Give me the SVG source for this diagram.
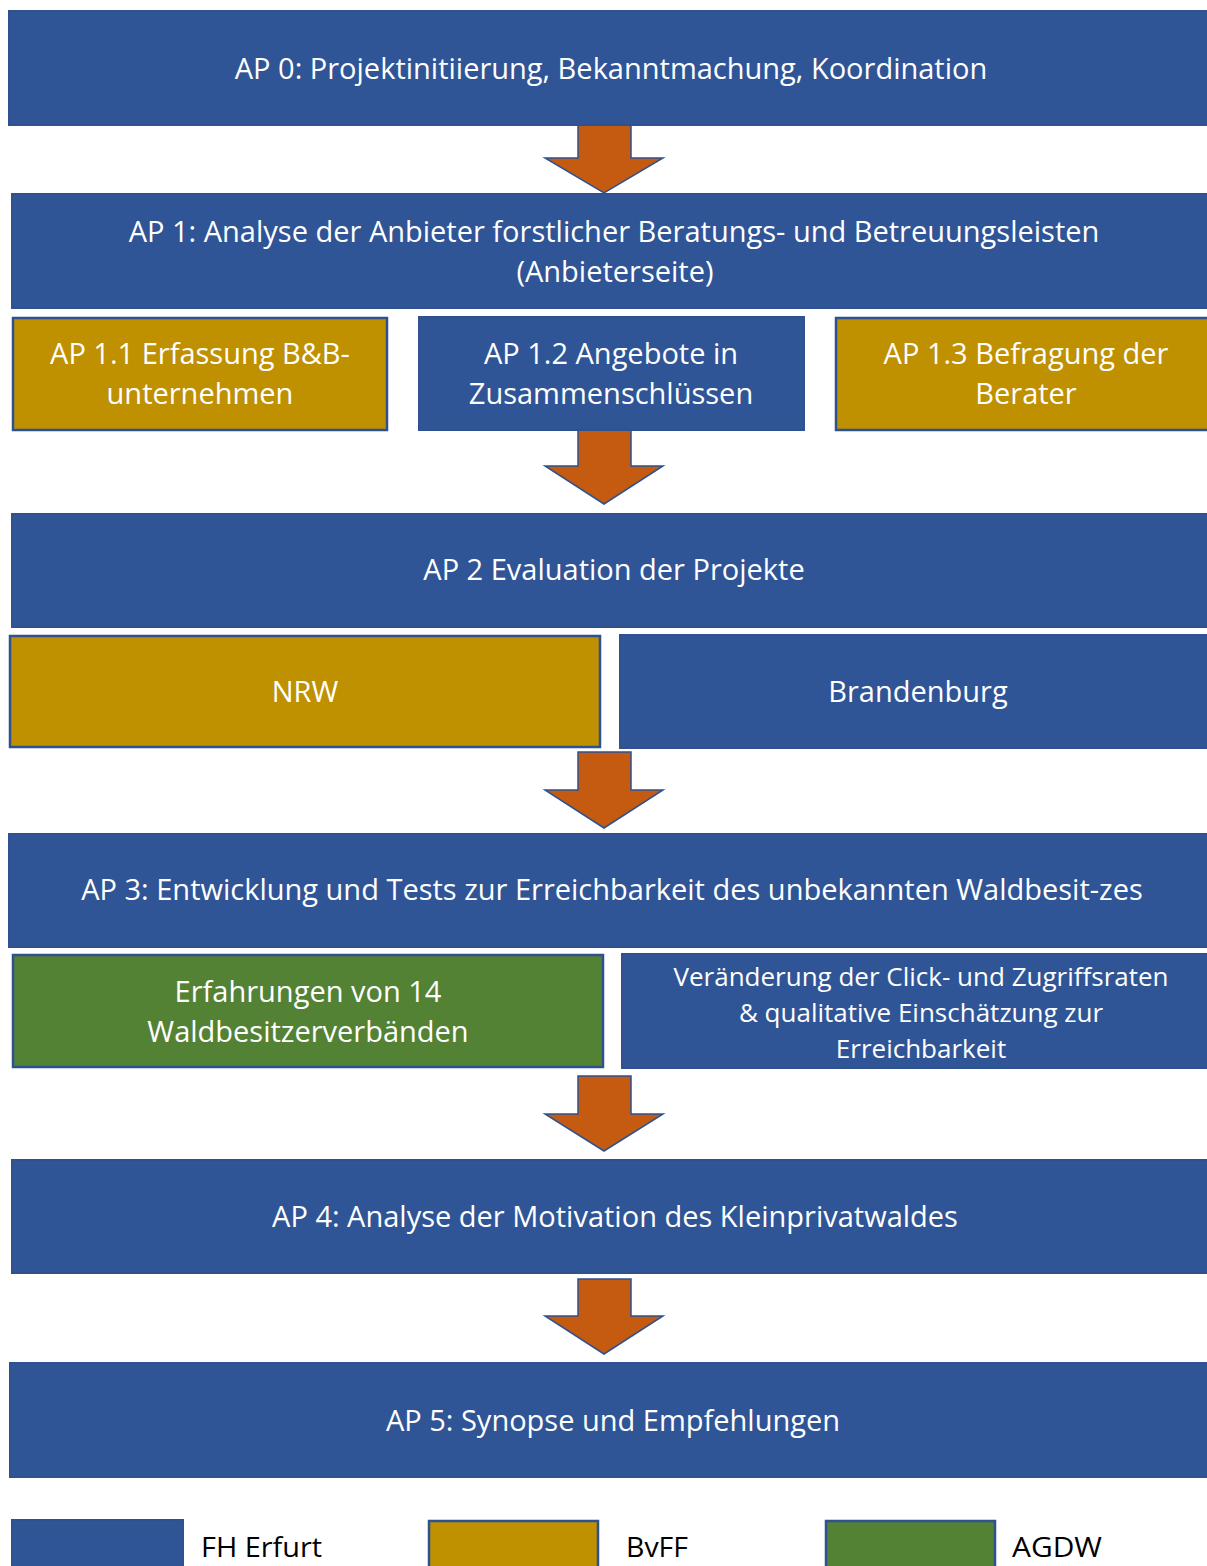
<svg xmlns="http://www.w3.org/2000/svg" width="1207" height="1566" viewBox="0 0 1207 1566">
<style>
.b{fill:#2F5597;stroke:#2F528F;stroke-width:2}
.g{fill:#BF9000;stroke:#2F528F;stroke-width:2.5}
.gr{fill:#548235;stroke:#2F528F;stroke-width:2.5}
.a{fill:#C55A11;stroke:#2F528F;stroke-width:1.5}
.t{font-family:"Open Sans","Liberation Sans",sans-serif;font-size:29px;fill:#FFFFFF;text-anchor:middle}
.s{font-size:26px}
.l{font-family:"Open Sans","Liberation Sans",sans-serif;font-size:27px;fill:#000000}
</style>
<rect width="1207" height="1566" fill="#FFFFFF"/>
<g id="connectors">
<polygon class="a" points="578,121 631,121 631,158 663,158 604,193 545,158 578,158"/>
<polygon class="a" points="578,429 631,429 631,466 663,466 604,504 545,466 578,466"/>
<polygon class="a" points="578,752 631,752 631,790 663,790 604,828 545,790 578,790"/>
<polygon class="a" points="578,1076 631,1076 631,1114 663,1114 604,1151 545,1114 578,1114"/>
<polygon class="a" points="578,1279 631,1279 631,1316 663,1316 604,1354 545,1316 578,1316"/>
</g>
<g id="ap0"><rect class="b" x="9" y="11" width="1210" height="114"/><text class="t" x="611" y="79">AP 0: Projektinitiierung, Bekanntmachung, Koordination</text></g>
<g id="ap1"><rect class="b" x="12" y="194" width="1210" height="114"/><text class="t" x="614" y="242">AP 1: Analyse der Anbieter forstlicher Beratungs- und Betreuungsleisten</text><text class="t" x="615" y="282">(Anbieterseite)</text></g>
<g id="ap11"><rect class="g" x="13" y="318" width="374" height="112"/><text class="t" x="200" y="364">AP 1.1 Erfassung B&amp;B-</text><text class="t" x="200" y="404">unternehmen</text></g>
<g id="ap12"><rect class="b" x="419" y="317" width="385" height="113"/><text class="t" x="611" y="364">AP 1.2 Angebote in</text><text class="t" x="611" y="404">Zusammenschlüssen</text></g>
<g id="ap13"><rect class="g" x="836" y="318" width="380" height="112"/><text class="t" x="1026" y="364">AP 1.3 Befragung der</text><text class="t" x="1026" y="404">Berater</text></g>
<g id="ap2"><rect class="b" x="12" y="514" width="1210" height="113"/><text class="t" x="614" y="580">AP 2 Evaluation der Projekte</text></g>
<g id="nrw"><rect class="g" x="10" y="636" width="590" height="111"/><text class="t" x="305" y="702">NRW</text></g>
<g id="brandenburg"><rect class="b" x="620" y="635" width="600" height="113"/><text class="t" x="918" y="702">Brandenburg</text></g>
<g id="ap3"><rect class="b" x="9" y="834" width="1210" height="113"/><text class="t" x="612" y="900">AP 3: Entwicklung und Tests zur Erreichbarkeit des unbekannten Waldbesit-zes</text></g>
<g id="erfahrungen"><rect class="gr" x="13" y="955" width="590" height="112"/><text class="t" x="308" y="1002">Erfahrungen von 14</text><text class="t" x="308" y="1042">Waldbesitzerverbänden</text></g>
<g id="veraenderung"><rect class="b" x="622" y="954" width="598" height="114"/><text class="t s" x="921" y="986">Veränderung der Click- und Zugriffsraten</text><text class="t s" x="921" y="1022">&amp; qualitative Einschätzung zur</text><text class="t s" x="921" y="1058">Erreichbarkeit</text></g>
<g id="ap4"><rect class="b" x="12" y="1160" width="1210" height="113"/><text class="t" x="615" y="1227">AP 4: Analyse der Motivation des Kleinprivatwaldes</text></g>
<g id="ap5"><rect class="b" x="10" y="1363" width="1210" height="114"/><text class="t" x="613" y="1431">AP 5: Synopse und Empfehlungen</text></g>
<g id="legend-fh"><rect class="b" x="12" y="1520" width="171" height="60"/><text class="l" x="201" y="1557" textLength="121" lengthAdjust="spacingAndGlyphs">FH Erfurt</text></g>
<g id="legend-bvff"><rect class="g" x="429" y="1521" width="169" height="60"/><text class="l" x="626" y="1557" textLength="62" lengthAdjust="spacingAndGlyphs">BvFF</text></g>
<g id="legend-agdw"><rect class="gr" x="826" y="1521" width="169" height="60"/><text class="l" x="1012" y="1557" textLength="90" lengthAdjust="spacingAndGlyphs">AGDW</text></g>
</svg>
